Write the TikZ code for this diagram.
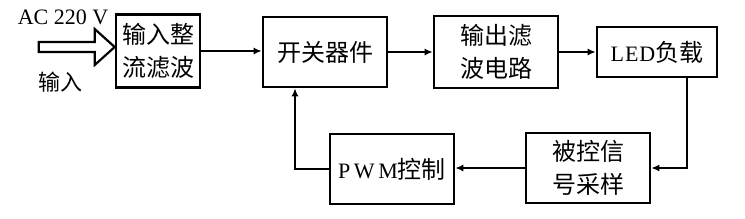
\documentclass[tikz,border=0pt]{standalone}
\usepackage{fontspec}
\setmainfont{Liberation Serif}
\newfontfamily\cjk{Noto Sans CJK SC}
\usetikzlibrary{arrows.meta,positioning,calc}

\begin{document}
\begin{tikzpicture}[
  x=1pt, y=-1pt,
  every node/.style={font=\fontsize{22}{32}\selectfont},
  blk/.style={rectangle, draw=black, line width=2.6pt, fill=white,
    font=\cjk\fontsize{24}{33}\selectfont, align=center, inner sep=0pt,
    minimum width=124pt, minimum height=70pt},
  link/.style={-{Latex[length=8pt,width=7pt]}, line width=1.8pt}
]
\useasboundingbox (0,0) rectangle (745,218);
% top row
\node[blk, minimum width=84pt, minimum height=73pt] (rect) at (158,51) {输入整\\流滤波};
\node[blk] (sw) at (325,52) {开关器件};
\node[blk, minimum height=72pt] (flt) at (496,52) {输出滤\\波电路};
\node[blk, minimum width=120pt, minimum height=50pt] (led) at (657,52) {{\rmfamily\fontsize{22}{22}\selectfont L\kern1pt E\kern1pt D}负载};
% bottom row
\node[blk] (smp) at (588,168) {被控信\\号采样};
\node[blk] (pwm) at (392,169) {{\rmfamily\fontsize{22}{22}\selectfont P\,W\,M}控制};
% input
\coordinate (tip) at ([yshift=4pt]rect.west);
\draw[line width=2.2pt, fill=white, line join=miter]
  (tip) -- ++(-20,-18) -- ++(0,13) -- ++(-56,0) -- ++(0,10) -- ++(56,0) -- ++(0,13) -- cycle;
\node (ac) at (63,17) {AC 220 V};
\node[font=\cjk\fontsize{22}{22}\selectfont] (inlbl) at (60,82) {输入};
% connectors
\draw[link] (rect.east) -- (rect.east -| sw.west);
\draw[link] (sw) -- (flt);
\draw[link] (flt) -- (led);
\draw[link] ([xshift=30pt]led.south) |- (smp.east);
\draw[link] (smp.west) -- (smp.west -| pwm.east);
\draw[link] (pwm.west) -| ([xshift=-30pt]sw.south);
\end{tikzpicture}
\end{document}
